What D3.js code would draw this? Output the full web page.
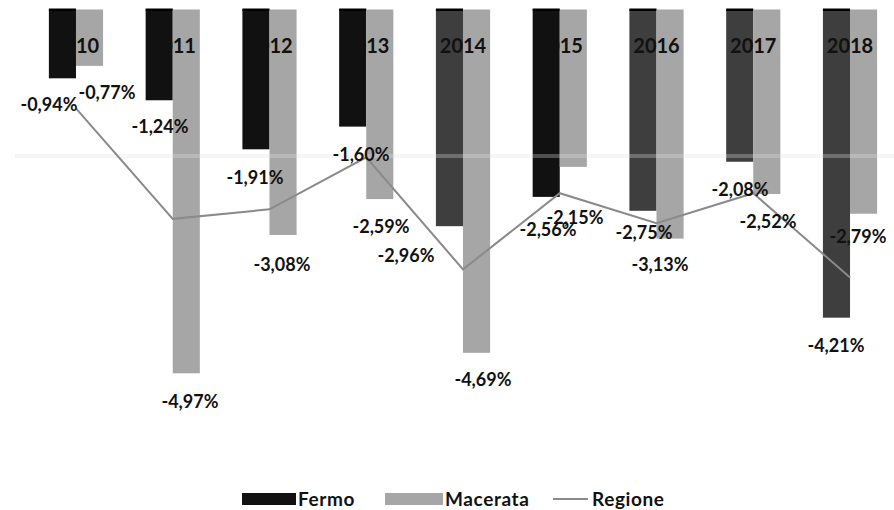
<!DOCTYPE html>
<html><head><meta charset="utf-8">
<script src="https://cdn.jsdelivr.net/npm/d3@7/dist/d3.min.js"></script>
<style>
html,body{margin:0;padding:0;background:#fff;}
svg{display:block;}
text{font-family:Lato,"Open Sans",sans-serif;font-weight:bold;}
</style></head>
<body>
<svg id="chart" width="894" height="510"></svg>
<script>
// ---- data ----
const years = ["2010","2011","2012","2013","2014","2015","2016","2017","2018"];
const fermo = [-0.94,-1.24,-1.91,-1.60,-2.96,-2.56,-2.75,-2.08,-4.21];
const macerata = [-0.77,-4.97,-3.08,-2.59,-4.69,-2.15,-3.13,-2.52,-2.79];
const regione = [-1.35,-2.86,-2.73,-2.02,-3.55,-2.51,-2.92,-2.51,-3.66];
const seriesNames = ["Fermo","Macerata","Regione"];

// ---- styles / label placement (not data) ----
const fermoFill = ["#111","#111","#111","#111","#3e3e3e","#111","#3e3e3e","#3e3e3e","#3e3e3e"];
const macerataFill = "#a6a6a6";
const lineColor = "#8a8a8a";
const fLabelDx = [-13.5,0.8,-1,8.3,-43.5,1.8,1,0.3,-0.5];
const fLabelDy = [26.7,26.7,28.7,27.4,29.8,33.1,22.2,28.2,28.3];
const mLabelDx = [17.4,3.7,-1.1,1.2,6.4,1.7,-10.1,1.2,-5.6];
const mLabelDy = [27.1,28.7,30,27.9,27.2,51.1,26.4,28,22.3];

const svg = d3.select("#chart");
const x = d3.scaleBand().domain(years).range([27.6, 898.4]).paddingInner(0.44).paddingOuter(0.22);
const x1 = d3.scaleBand().domain(["Fermo","Macerata"]).range([0, x.bandwidth()]);
const y = d3.scaleLinear().domain([0, -6]).range([9.5, 9.5 + 6*73.2]);
const cx = d => x(d) + x.bandwidth()/2;

const loc = d3.formatLocale({decimal:",", thousands:".", grouping:[3], currency:["","€"], minus:"-"});
const fmt = v => loc.format(".2f")(v) + "%";

// bars
const g = svg.append("g");
years.forEach((yr, i) => {
  g.append("rect").attr("x", x(yr) + x1("Fermo")).attr("width", x1.bandwidth())
    .attr("y", y(0)).attr("height", y(fermo[i]) - y(0)).attr("fill", fermoFill[i]);
  g.append("rect").attr("x", x(yr) + x1("Fermo")).attr("width", x1.bandwidth())
    .attr("y", y(0) - 1).attr("height", 2.5).attr("fill", "#000");
  g.append("rect").attr("x", x(yr) + x1("Macerata")).attr("width", x1.bandwidth())
    .attr("y", y(0)).attr("height", y(macerata[i]) - y(0)).attr("fill", macerataFill);
});

// faint gridline at -2%
svg.append("line").attr("x1", 15).attr("x2", 894).attr("y1", y(-2)).attr("y2", y(-2))
  .attr("stroke", "rgba(225,225,225,0.3)").attr("stroke-width", 4);

// category labels (axis at zero line)
const axis = d3.axisTop(x).tickSize(0).tickPadding(0);
const axG = svg.append("g").attr("transform", `translate(0,${y(0)})`).call(axis);
axG.select(".domain").remove();
axG.selectAll("text").attr("font-size", 20).attr("fill", "#111")
  .attr("font-family", "Lato, sans-serif").attr("font-weight", "bold")
  .attr("dy", "0").attr("y", 43);

// Regione line
const line = d3.line().x((d, i) => cx(years[i])).y(d => y(d));
svg.append("path").datum(regione).attr("d", line).attr("fill", "none")
  .attr("stroke", lineColor).attr("stroke-width", 2);

// data labels
const lab = svg.append("g").attr("font-size", 18).attr("fill", "#111").attr("text-anchor", "middle");
years.forEach((yr, i) => {
  lab.append("text").attr("x", x(yr) + x1("Fermo") + x1.bandwidth()/2 + fLabelDx[i])
    .attr("y", y(fermo[i]) + fLabelDy[i]).attr("dy", "0.36em").text(fmt(fermo[i]));
  lab.append("text").attr("x", x(yr) + x1("Macerata") + x1.bandwidth()/2 + mLabelDx[i])
    .attr("y", y(macerata[i]) + mLabelDy[i]).attr("dy", "0.36em").text(fmt(macerata[i]));
});

// legend
const lg = svg.append("g").attr("font-size", 19).attr("fill", "#111").attr("letter-spacing", 0.6);
lg.append("rect").attr("x", 242).attr("y", 493).attr("width", 54).attr("height", 12).attr("fill", "#111");
lg.append("text").attr("x", 298).attr("y", 506).text(seriesNames[0]);
lg.append("rect").attr("x", 385).attr("y", 493).attr("width", 58).attr("height", 12).attr("fill", macerataFill);
lg.append("text").attr("x", 445).attr("y", 506).text(seriesNames[1]);
lg.append("line").attr("x1", 553).attr("x2", 588).attr("y1", 499).attr("y2", 499)
  .attr("stroke", lineColor).attr("stroke-width", 2);
lg.append("text").attr("x", 592).attr("y", 506).text(seriesNames[2]);
</script>
</body></html>
